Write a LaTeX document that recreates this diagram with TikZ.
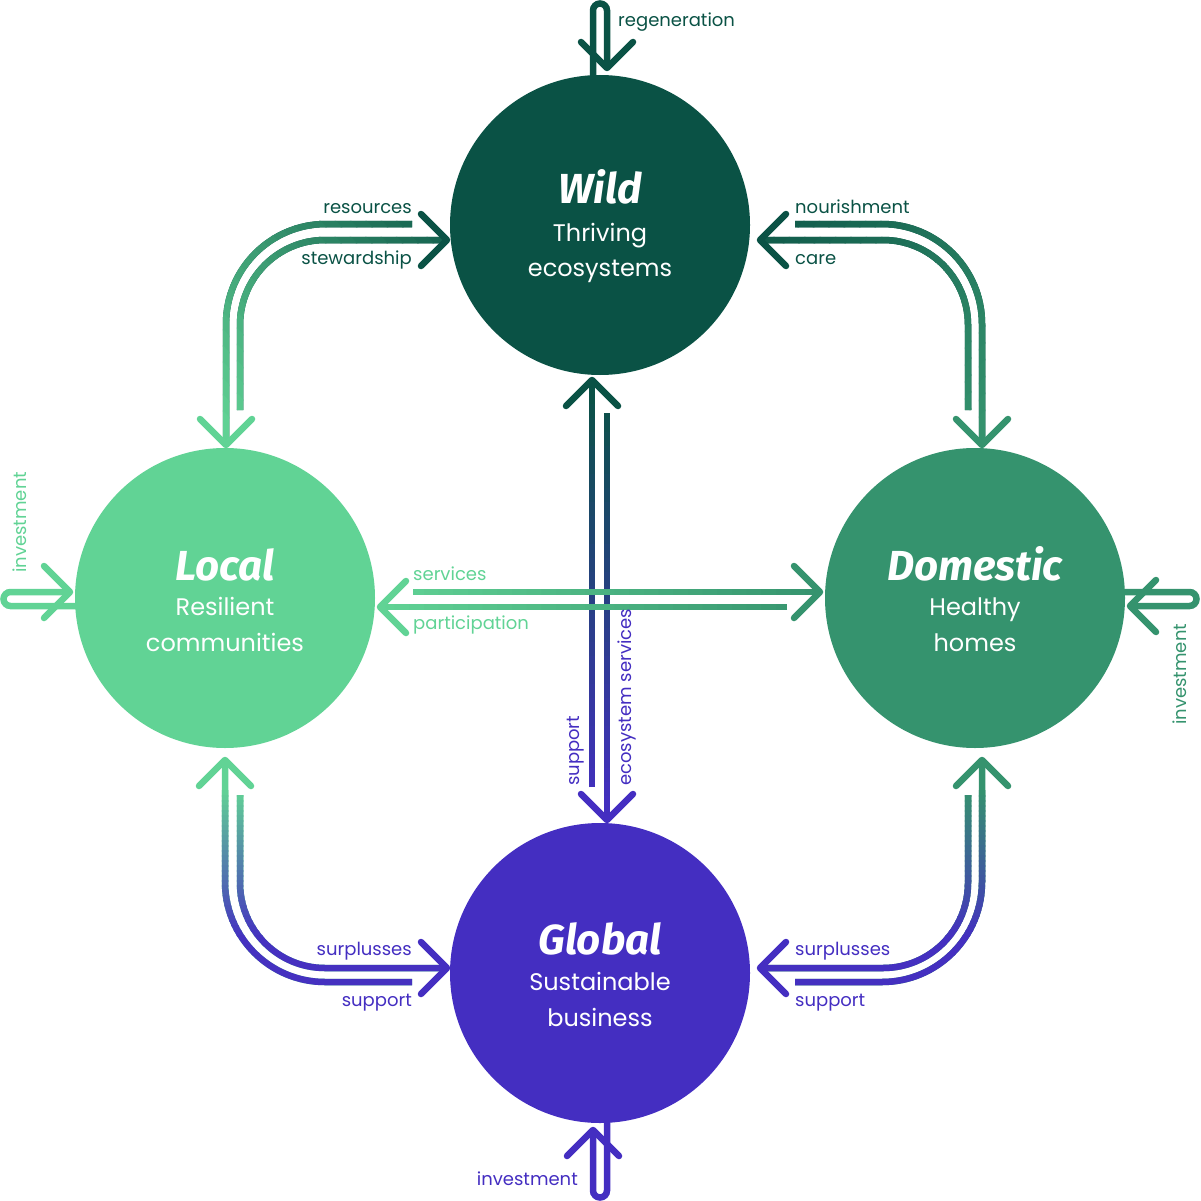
\documentclass[tikz,border=0pt]{standalone}
\usepackage{fontspec}
\setmainfont{Poppins}
\newfontfamily\titlefont{Fira Sans}
\definecolor{wildc}{HTML}{0A5245}
\definecolor{localc}{HTML}{61D395}
\definecolor{domc}{HTML}{35936E}
\definecolor{globc}{HTML}{442EC1}

\tikzset{
  conn/.style={line width=6.5pt, line cap=butt},
  chevst/.style={line width=6.5pt, line cap=round, line join=round},
  inflow/.style={line width=6.5pt, line cap=butt, rounded corners=7pt},
  lbl/.style={inner sep=0pt, font=\fontsize{18}{20}\selectfont},
  ttl/.style={inner sep=0pt, text=white, font=\titlefont\bfseries\itshape\fontsize{42}{46}\selectfont},
  sub/.style={inner sep=0pt, text=white, font=\fontsize{24}{28}\selectfont},
  bubble/.style={circle, minimum size=300pt, inner sep=0pt},
}

% gradient connector: colA colB xa ya xb yb {path}
\newcommand\gradconn[7]{%
  \pgfmathsetmacro\gang{atan2(-(#6-#4),(#5-#3))}%
  \pgfmathsetmacro\glen{veclen((#5-#3),(#6-#4))}%
  \draw[conn,#1] #7;
  \foreach \i in {0,...,29}{%
    \pgfmathsetmacro\gxa{\i*\glen/30}%
    \pgfmathsetmacro\gxb{ifthenelse(\i==29,3000,(\i+1)*\glen/30+1)}%
    \pgfmathsetmacro\gp{(\i+0.5)/30*100}%
    \begin{scope}
      \clip[shift={(#3,#4)},rotate=\gang] (\gxa,-3000) rectangle (\gxb,3000);
      \draw[conn,#2!\gp!#1] #7;
    \end{scope}
  }%
}
% chevron: colour x y angle
\newcommand\chev[4]{%
  \begin{scope}[shift={(#2,#3)},rotate=#4]
    \draw[chevst,#1] (-26,-26) -- (0,0) -- (-26,26);
  \end{scope}
}

\begin{document}
\begin{tikzpicture}[x=1pt,y=-1pt]
\useasboundingbox (0,0) rectangle (1200,1201);

% circles
\node[bubble, fill=wildc]  (wild)  at (600,225) {};
\node[bubble, fill=localc] (local) at (225,598) {};
\node[bubble, fill=domc]   (dom)   at (975,598) {};
\node[bubble, fill=globc]  (glob)  at (600,973) {};

% inflows
\draw[inflow, wildc]  (593,80) -- (593,3.5) -- (607,3.5) -- (607,68);
\chev{wildc}{607}{68}{-90}
\draw[inflow, localc] (80,606) -- (3.5,606) -- (3.5,592) -- (70,592);
\chev{localc}{70}{592}{0}
\draw[inflow, domc]   (1120,592) -- (1196.5,592) -- (1196.5,606) -- (1130,606);
\chev{domc}{1130}{606}{180}
\draw[inflow, globc]  (607,1120) -- (607,1197.5) -- (593,1197.5) -- (593,1130);
\chev{globc}{593}{1130}{90}

% Wild - Global
\gradconn{wildc}{globc}{600}{390}{600}{810}{(592,787) -- (592,380) (607,413) -- (607,820)}
\chev{wildc}{592}{380}{90}
\chev{globc}{607}{820}{-90}

% Local - Domestic
\gradconn{localc}{domc}{380}{600}{820}{600}{(413,592) -- (820,592) (787,607) -- (380,607)}
\chev{domc}{820}{592}{0}
\chev{localc}{380}{607}{180}

% Wild - Local
\gradconn{wildc}{localc}{470}{200}{226}{430}{[rounded corners=100pt] (412,224) -| (226,445) [rounded corners=85pt] (240,410) |- (447,240)}
\chev{localc}{226}{445}{-90}
\chev{wildc}{447}{240}{0}

% Wild - Domestic
\gradconn{wildc}{domc}{730}{200}{982}{430}{[rounded corners=100pt] (795,224) -| (982,445) [rounded corners=85pt] (968,410) |- (760,240)}
\chev{domc}{982}{445}{-90}
\chev{wildc}{760}{240}{180}

% Local - Global
\gradconn{localc}{globc}{232}{790}{232}{940}{[rounded corners=100pt] (412,982) -| (225,760) [rounded corners=85pt] (240,795) |- (447,968)}
\chev{localc}{225}{760}{90}
\chev{globc}{447}{968}{0}

% Domestic - Global
\gradconn{domc}{globc}{975}{790}{975}{940}{[rounded corners=100pt] (795,982) -| (982,760) [rounded corners=85pt] (968,795) |- (760,968)}
\chev{domc}{982}{760}{90}
\chev{globc}{760}{968}{180}

% circle texts
\node[ttl, anchor=base] (wildT) at (600,204) {Wild};
\node[sub, anchor=base] (wildA) at (600,241) {Thriving};
\node[sub, anchor=base] (wildB) at (600,276) {ecosystems};
\node[ttl, anchor=base] (localT) at (225,580) {Local};
\node[sub, anchor=base] (localA) at (225,615) {Resilient};
\node[sub, anchor=base] (localB) at (225,651) {communities};
\node[ttl, anchor=base] (domT) at (975,580) {Domestic};
\node[sub, anchor=base] (domA) at (975,615) {Healthy};
\node[sub, anchor=base] (domB) at (975,651) {homes};
\node[ttl, anchor=base] (globT) at (600,954) {Global};
\node[sub, anchor=base] (globA) at (600,990) {Sustainable};
\node[sub, anchor=base] (globB) at (600,1026) {business};

% labels
\node[lbl, text=wildc, anchor=base east] (l1) at (412,213) {resources};
\node[lbl, text=wildc, anchor=base east] (l2) at (412,264) {stewardship};
\node[lbl, text=wildc, anchor=base west] (l3) at (795,213) {nourishment};
\node[lbl, text=wildc, anchor=base west] (l4) at (795,264) {care};
\node[lbl, text=localc, anchor=base west] (l5) at (413,580) {services};
\node[lbl, text=localc, anchor=base west] (l6) at (413,629) {participation};
\node[lbl, text=globc, anchor=base east] (l7) at (412,955) {surplusses};
\node[lbl, text=globc, anchor=base east] (l8) at (412,1006) {support};
\node[lbl, text=globc, anchor=base west] (l9) at (795,955) {surplusses};
\node[lbl, text=globc, anchor=base west] (l10) at (795,1006) {support};
\node[lbl, text=wildc, anchor=base west] (l11) at (618,27) {regeneration};
\node[lbl, text=globc, rotate=90, anchor=west] (l12) at (576,786) {support};
\node[lbl, text=globc, rotate=90, anchor=west] (l13) at (627,786) {ecosystem services};
\node[lbl, text=localc, rotate=90, anchor=west] (l14) at (20,573) {investment};
\node[lbl, text=domc, rotate=90, anchor=west] (l15) at (1180,725) {investment};
\node[lbl, text=globc, anchor=base east] (l16) at (578,1185) {investment};
\end{tikzpicture}
\end{document}
